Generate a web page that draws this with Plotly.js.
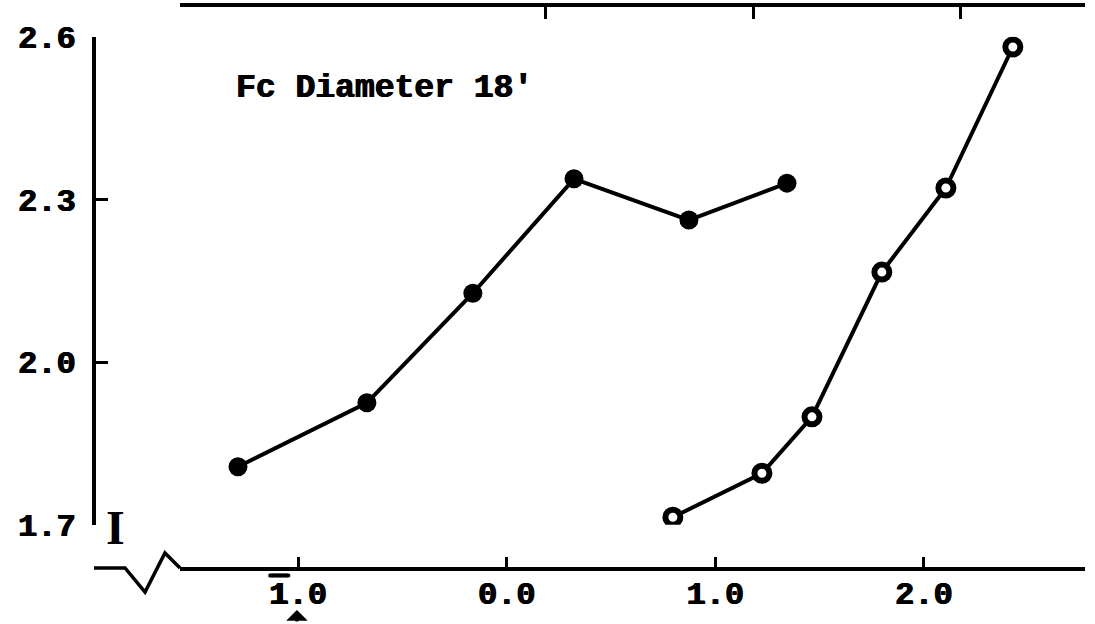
<!DOCTYPE html>
<html>
<head>
<meta charset="utf-8">
<script src="https://cdn.plot.ly/plotly-3.0.1.min.js"></script>
<style>html,body{margin:0;padding:0;background:#fff;}#chart{width:1095px;height:624px;}</style>
</head>
<body>
<div id="chart"></div>
<script>
// Data
const filledX = [-1.288, -0.670, -0.162, 0.323, 0.874, 1.344];
const filledY = [1.807, 1.925, 2.127, 2.338, 2.262, 2.330];
const openX = [0.797, 1.224, 1.464, 1.799, 2.106, 2.427];
const openY = [1.714, 1.795, 1.899, 2.166, 2.321, 2.581];
const xTickVals = [-1, 0, 1, 2];
const xTickText = ['<span style="text-decoration:overline">1</span>.0', '0.0', '1.0', '2.0'];
const yTickVals = [1.7, 2.0, 2.3, 2.6];
const yTickText = ['1.7', '2.0', '2.3', '2.6'];
const topTickVals = [0.188, 1.186, 2.178];
const labelText = "Fc Diameter 18'";

const F = {family: 'Liberation Mono, Courier New, monospace', size: 32, color: '#000', weight: 'bold',
           shadow: '0.8px 0 0 #000, -0.4px 0 0 #000'};
const xRange = [-1.566, 2.773];

const traces = [
  {x: filledX, y: filledY, type: 'scatter', mode: 'lines+markers',
   line: {color: '#000', width: 4},
   marker: {symbol: 'circle', size: 19, color: '#000'},
   hoverinfo: 'skip', showlegend: false},
  {x: openX, y: openY, type: 'scatter', mode: 'lines+markers',
   line: {color: '#000', width: 4},
   marker: {symbol: 'circle', size: 15, color: '#fff', line: {color: '#000', width: 6}},
   hoverinfo: 'skip', showlegend: false},
  {x: [], y: [], xaxis: 'x2', yaxis: 'y', type: 'scatter', mode: 'markers', showlegend: false, hoverinfo: 'skip'}
];

const layout = {
  width: 1095, height: 624,
  margin: {l: 94, r: 10, t: 4, b: 56, pad: 0},
  paper_bgcolor: '#fff', plot_bgcolor: '#fff',
  showlegend: false,
  xaxis: {
    range: xRange, domain: [0.0868, 1], anchor: 'free', position: 0,
    showgrid: false, zeroline: false,
    showline: true, linecolor: '#000', linewidth: 3.5,
    ticks: 'inside', ticklen: 10, tickwidth: 3, tickcolor: '#000',
    tickvals: xTickVals, ticktext: xTickText, tickfont: F, ticklabelstandoff: -5
  },
  xaxis2: {
    range: xRange, domain: [0.0868, 1], anchor: 'free', position: 1, overlaying: 'x', side: 'top',
    showgrid: false, zeroline: false,
    showline: true, linecolor: '#000', linewidth: 3.5,
    ticks: 'inside', ticklen: 12, tickwidth: 3, tickcolor: '#000',
    tickvals: topTickVals, showticklabels: false
  },
  yaxis: {
    range: [1.7, 2.6], domain: [0.0766, 0.942], anchor: 'free', position: 0,
    showgrid: false, zeroline: false,
    showline: true, linecolor: '#000', linewidth: 4,
    ticks: 'inside', ticklen: 12, tickwidth: 3, tickcolor: '#000',
    tickvals: yTickVals, ticktext: yTickText, tickfont: F, ticklabelstandoff: 10
  },
  shapes: [
    {type: 'path', xref: 'paper', yref: 'paper',
     path: 'M 0,0 L 0.0313,0 L 0.0515,-0.0426 L 0.0716,0.0266 L 0.0868,0',
     line: {color: '#000', width: 3.5}}
  ],
  annotations: [
    {text: labelText, xref: 'paper', yref: 'paper', x: 0.2936, y: 0.851,
     xanchor: 'center', yanchor: 'middle', showarrow: false,
     font: Object.assign({}, F, {size: 33})},
    {text: 'I', xref: 'paper', yref: 'paper', x: 0.0212, y: 0.071,
     xanchor: 'center', yanchor: 'middle', showarrow: false,
     font: {family: 'Liberation Serif, serif', size: 48, color: '#000', weight: 'bold'}},
    {text: '', xref: 'paper', yref: 'paper', x: 0.2048, y: -0.0745,
     showarrow: true, ax: 0, ay: 13, arrowhead: 1, arrowsize: 1.2, arrowwidth: 3,
     arrowcolor: '#000', standoff: 0, startstandoff: 0}
  ]
};

Plotly.newPlot('chart', traces, layout, {staticPlot: true, displayModeBar: false});
</script>
</body>
</html>
